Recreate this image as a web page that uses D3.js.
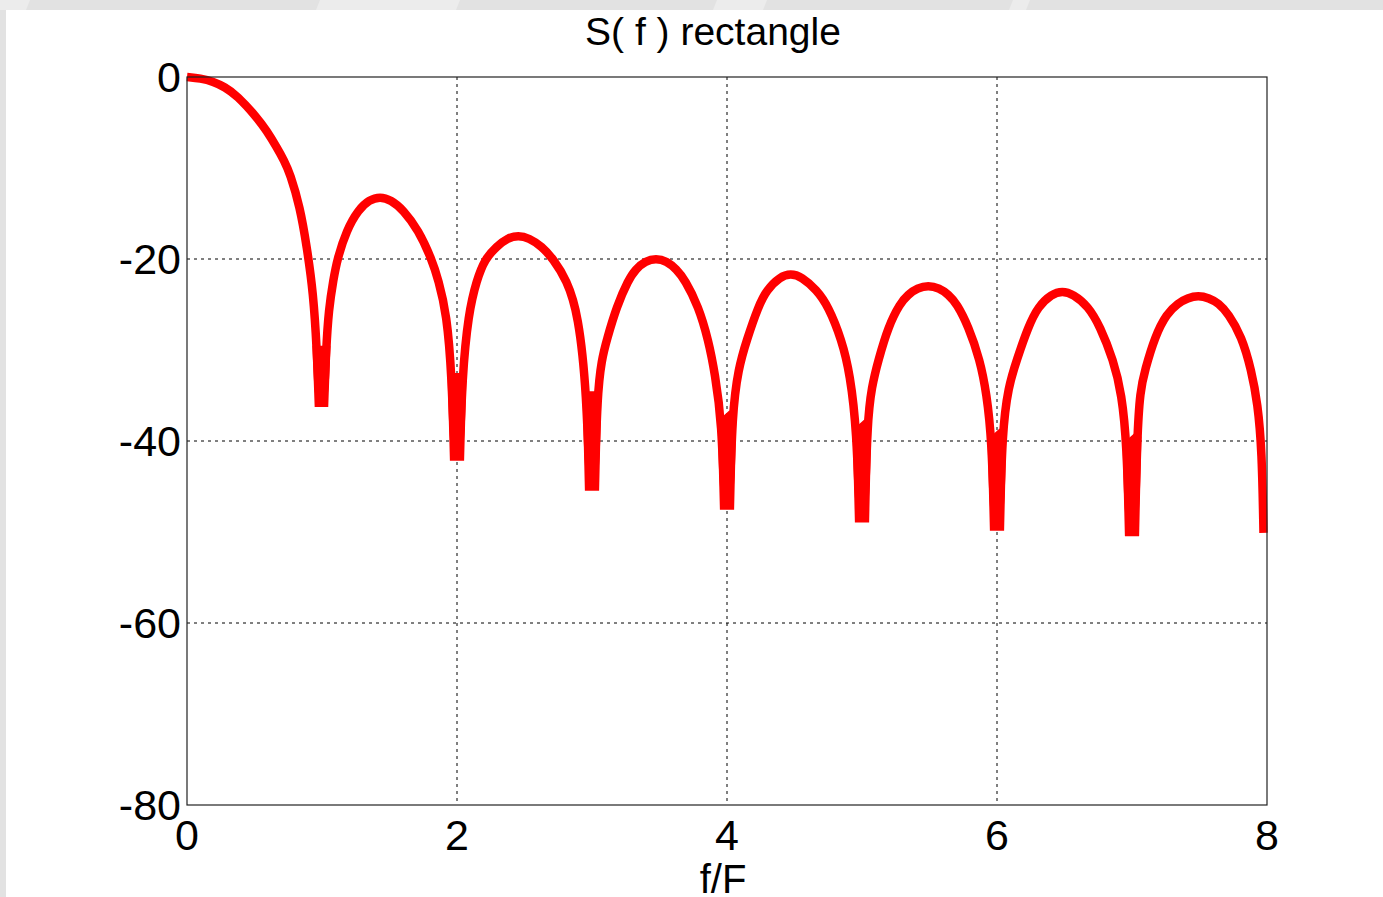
<!DOCTYPE html>
<html>
<head>
<meta charset="utf-8">
<script src="https://cdn.jsdelivr.net/npm/d3@7"></script>
<style>
  body { margin: 0; background: #fff; }
  svg { display: block; font-family: "Liberation Sans", Arial, sans-serif; }
  .grid line { stroke: #000; stroke-width: 1; stroke-dasharray: 3,4; }
  .chart-line { fill: none; stroke: #ff0000; stroke-width: 8.5; stroke-linejoin: miter; stroke-miterlimit: 2; }
  .null-block { fill: #ff0000; stroke: #ff0000; stroke-width: 8.5; stroke-linejoin: miter; stroke-miterlimit: 2; }
</style>
</head>
<body>
<svg id="chart"></svg>
<script>
// values (f/F and level in dB)
const freq = [
  0, 0.10, 0.195, 0.28, 0.368, 0.516, 0.59, 0.664, 0.72, 0.763, 0.837, 0.887, 0.936, 0.962, 0.976,
  1.016, 1.03, 1.05, 1.084, 1.113, 1.183, 1.269, 1.35, 1.43, 1.51, 1.602, 1.713, 1.812, 1.862, 1.924, 1.962, 1.978,
  2.022, 2.038, 2.084, 2.146, 2.207, 2.294, 2.374, 2.454, 2.534, 2.627, 2.713, 2.812, 2.899, 2.962, 2.978,
  3.022, 3.038, 3.072, 3.109, 3.183, 3.269, 3.324, 3.394, 3.474, 3.554, 3.624, 3.689, 3.788, 3.862, 3.911, 3.962, 3.978,
  4.022, 4.038, 4.084, 4.146, 4.232, 4.294, 4.392, 4.472, 4.552, 4.664, 4.75, 4.85, 4.911, 4.962, 4.978,
  5.022, 5.038, 5.072, 5.121, 5.195, 5.281, 5.341, 5.411, 5.491, 5.571, 5.641, 5.701, 5.788, 5.874, 5.923, 5.962, 5.978,
  6.022, 6.038, 6.084, 6.146, 6.232, 6.306, 6.404, 6.484, 6.564, 6.676, 6.763, 6.862, 6.924, 6.962, 6.978,
  7.022, 7.038, 7.06, 7.096, 7.17, 7.257, 7.341, 7.411, 7.491, 7.571, 7.641, 7.713, 7.812, 7.884, 7.931, 7.962, 7.974
];
const levelDb = [
  0, -0.15, -0.5, -1.1, -2.0, -4.4, -5.9, -7.7, -9.2, -10.6, -14.3, -18.6, -23.8, -30.0, -35.8,
  -35.8, -30.0, -25.5, -22.3, -20.0, -16.8, -14.6, -13.5, -13.15, -13.5, -14.6, -16.8, -20.0, -22.3, -26.0, -33.0, -41.7,
  -41.7, -33.0, -26.0, -22.3, -20.0, -18.6, -17.7, -17.4, -17.7, -18.6, -20.0, -22.3, -26.0, -35.0, -45.0,
  -45.0, -35.0, -31.0, -28.9, -25.2, -22.3, -21.1, -20.25, -19.9, -20.25, -21.1, -22.3, -25.2, -28.9, -32.6, -38.0, -47.1,
  -47.1, -37.0, -32.0, -28.9, -25.2, -23.4, -21.95, -21.6, -21.95, -23.4, -25.2, -28.9, -32.6, -39.0, -48.5,
  -48.5, -38.0, -34.0, -31.1, -27.4, -24.9, -23.9, -23.2, -22.9, -23.2, -23.9, -24.9, -27.4, -31.1, -34.8, -40.0, -49.4,
  -49.4, -39.0, -34.0, -31.1, -27.4, -25.2, -23.85, -23.5, -23.85, -25.2, -27.4, -31.1, -34.8, -40.5, -50.0,
  -50.0, -39.5, -34.5, -32.2, -28.5, -26.0, -24.85, -24.3, -24.0, -24.3, -24.85, -26.0, -28.5, -32.2, -35.9, -41.0, -50.1
];
const xTicks = [0, 2, 4, 6, 8];
const yTicks = [0, -20, -40, -60, -80];
const titleText = "S( f ) rectangle";
const xLabel = "f/F";

class SpectrumPlot {

  constructor(_config, _data) {
    this.config = {
      parentElement: _config.parentElement,
      containerWidth: _config.containerWidth || 1383,
      containerHeight: _config.containerHeight || 897,
      margin: { top: 77, bottom: 92, right: 116, left: 187 }
    }
    this.data = _data;
    this.initVis();
  }

  initVis() {
    let vis = this;

    vis.width = vis.config.containerWidth - vis.config.margin.left - vis.config.margin.right;
    vis.height = vis.config.containerHeight - vis.config.margin.top - vis.config.margin.bottom;

    vis.xScale = d3.scaleLinear()
        .domain([0, 8])
        .range([0, vis.width]);

    vis.yScale = d3.scaleLinear()
        .domain([-80, 0])
        .range([vis.height, 0]);

    vis.svg = d3.select(vis.config.parentElement)
        .attr('width', vis.config.containerWidth)
        .attr('height', vis.config.containerHeight);

    // slide background bits around the figure
    vis.svg.append('rect')
        .attr('x', 0).attr('y', 0)
        .attr('width', vis.config.containerWidth).attr('height', 10)
        .attr('fill', '#e2e2e2');
    vis.svg.append('rect')
        .attr('x', 0).attr('y', 0)
        .attr('width', 6).attr('height', vis.config.containerHeight)
        .attr('fill', '#e2e2e2');
    [[0, 30], [320, 460], [717, 767], [1013, 1030]].forEach(s => {
      vis.svg.append('polygon')
          .attr('points', `${s[0]},0 ${s[1]},0 ${s[1] - 4},10 ${s[0] - 4},10`)
          .attr('fill', '#ececec');
    });

    vis.chart = vis.svg.append('g')
        .attr('transform', `translate(${vis.config.margin.left},${vis.config.margin.top})`);

    vis.chart.append('rect')
        .attr('width', vis.width)
        .attr('height', vis.height)
        .attr('fill', '#fff');

    vis.gridG = vis.chart.append('g').attr('class', 'grid');

    vis.svg.append('text')
        .attr('x', 713)
        .attr('y', 45)
        .attr('text-anchor', 'middle')
        .attr('font-size', 39)
        .attr('fill', '#000')
        .text(titleText);

    vis.updateVis();
  }

  updateVis() {
    let vis = this;

    vis.xValue = d => d.f;
    vis.yValue = d => d.db;

    vis.line = d3.line()
        .x(d => vis.xScale(vis.xValue(d)))
        .y(d => vis.yScale(vis.yValue(d)))
        .curve(d3.curveBasis);

    vis.blockLine = d3.line()
        .x(d => vis.xScale(vis.xValue(d)))
        .y(d => vis.yScale(vis.yValue(d)));

    // the sampled nulls: two equal bottom values next to each other
    vis.blocks = [];
    for (let i = 1; i < vis.data.length - 2; i++) {
      if (vis.data[i].db === vis.data[i + 1].db) {
        vis.blocks.push(vis.data.slice(i - 1, i + 3));
      }
    }

    vis.renderVis();
  }

  renderVis() {
    let vis = this;

    // dotted grid, inner ticks only
    vis.gridG.selectAll('.gx')
        .data(xTicks.slice(1, -1))
        .join('line')
        .attr('class', 'gx')
        .attr('x1', d => vis.xScale(d)).attr('x2', d => vis.xScale(d))
        .attr('y1', 0).attr('y2', vis.height);

    vis.gridG.selectAll('.gy')
        .data(yTicks.slice(1, -1))
        .join('line')
        .attr('class', 'gy')
        .attr('x1', 0).attr('x2', vis.width)
        .attr('y1', d => vis.yScale(d)).attr('y2', d => vis.yScale(d));

    vis.chart.append('path')
        .data([vis.data])
        .attr('class', 'chart-line')
        .attr('d', vis.line);

    vis.chart.selectAll('.null-block')
        .data(vis.blocks)
        .join('path')
        .attr('class', 'null-block')
        .attr('d', d => vis.blockLine(d) + 'Z');

    // axes box
    vis.chart.append('rect')
        .attr('width', vis.width)
        .attr('height', vis.height)
        .attr('fill', 'none')
        .attr('stroke', '#222')
        .attr('stroke-width', 1.2);

    vis.chart.selectAll('.xtick')
        .data(xTicks)
        .join('text')
        .attr('class', 'xtick')
        .attr('x', d => vis.xScale(d))
        .attr('y', vis.height + 45)
        .attr('text-anchor', 'middle')
        .attr('font-size', 43)
        .text(d => d);

    vis.chart.selectAll('.ytick')
        .data(yTicks)
        .join('text')
        .attr('class', 'ytick')
        .attr('x', -6)
        .attr('y', d => vis.yScale(d) + 15)
        .attr('text-anchor', 'end')
        .attr('font-size', 43)
        .text(d => d);

    vis.chart.append('text')
        .attr('x', vis.xScale(4) - 4)
        .attr('y', vis.height + 88)
        .attr('text-anchor', 'middle')
        .attr('font-size', 40)
        .text(xLabel);
  }
}

const points = freq.map((f, i) => ({ f: f, db: levelDb[i] }));
new SpectrumPlot({ parentElement: '#chart' }, points);
</script>
</body>
</html>
